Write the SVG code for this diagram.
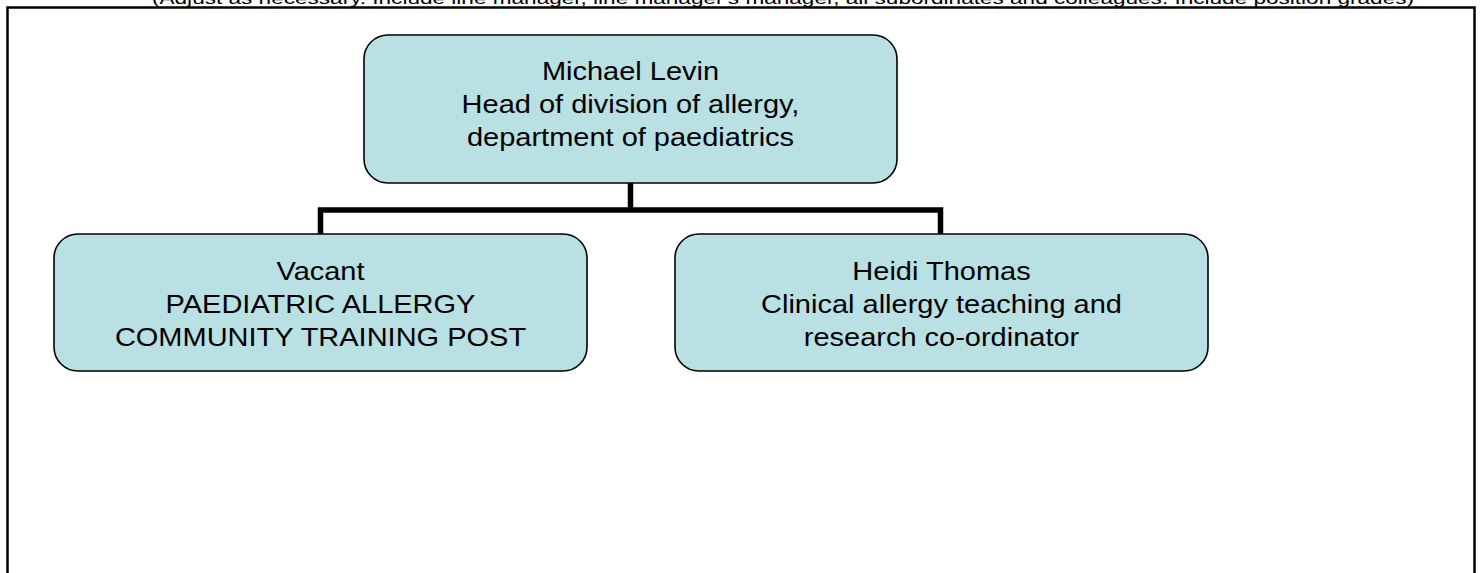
<svg xmlns="http://www.w3.org/2000/svg" width="1483" height="573" viewBox="0 0 1483 573">
<style>
.box{fill:#B9E0E3;stroke:#000;stroke-width:1.6}
.lbl{font-family:"Liberation Sans",Arial,sans-serif;font-size:25px;fill:#000;text-anchor:middle}
.hdr{font-family:"Liberation Sans",Arial,sans-serif;font-size:16px;fill:#000;text-anchor:middle}
.conn{fill:none;stroke:#000;stroke-width:5.5;stroke-linecap:butt;stroke-linejoin:miter}
</style>
<rect width="1483" height="573" fill="#fff"/>
<text class="hdr" x="783" y="4" textLength="1262" lengthAdjust="spacingAndGlyphs">(Adjust as necessary. Include line manager, line manager's manager, all subordinates and colleagues. Include position grades)</text>
<path d="M7.5,573 V7.5 H1474.5 V573" fill="none" stroke="#000" stroke-width="2.5"/>
<g id="connectors">
<path class="conn" d="M630.5,183 V210"/>
<path class="conn" d="M320.5,234 V210 H940.5 V234"/>
</g>
<g id="node-levin">
<rect class="box" x="364" y="35" width="533" height="148" rx="24" ry="24"/>
<text class="lbl" transform="translate(630.5,80) scale(1.16,1)"><tspan x="0" y="0">Michael Levin</tspan><tspan x="0" y="33">Head of division of allergy,</tspan><tspan x="0" y="66">department of paediatrics</tspan></text>
</g>
<g id="node-vacant">
<rect class="box" x="54" y="234" width="533" height="137" rx="24" ry="24"/>
<text class="lbl" transform="translate(320.5,280) scale(1.16,1)"><tspan x="0" y="0">Vacant</tspan><tspan x="0" y="33">PAEDIATRIC ALLERGY</tspan><tspan x="0" y="66">COMMUNITY TRAINING POST</tspan></text>
</g>
<g id="node-thomas">
<rect class="box" x="675" y="234" width="533" height="137" rx="24" ry="24"/>
<text class="lbl" transform="translate(941.5,280) scale(1.16,1)"><tspan x="0" y="0">Heidi Thomas</tspan><tspan x="0" y="33">Clinical allergy teaching and</tspan><tspan x="0" y="66">research co-ordinator</tspan></text>
</g>
</svg>
